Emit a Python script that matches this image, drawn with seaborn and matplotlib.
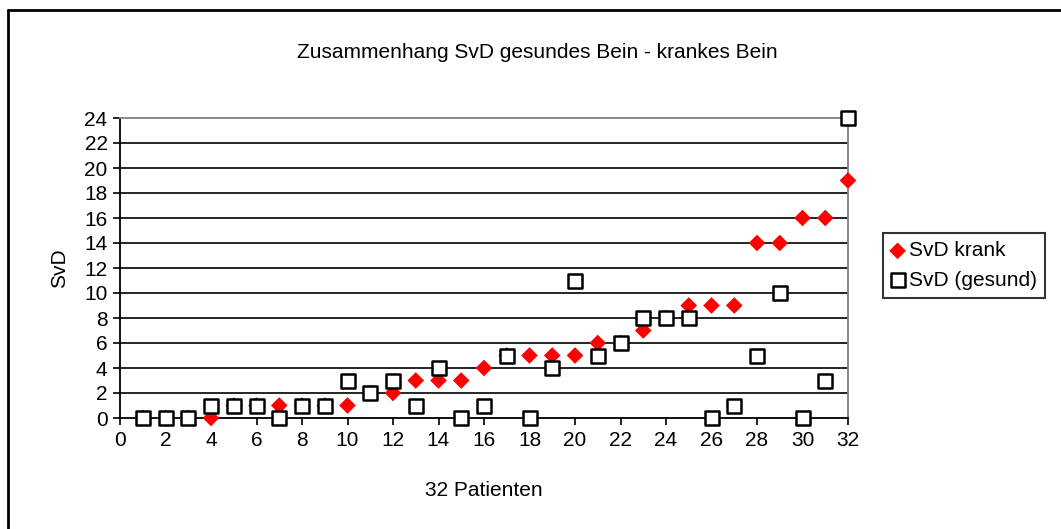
import numpy as np
import pandas as pd
import matplotlib
matplotlib.use('Agg')
import matplotlib.pyplot as plt
import seaborn as sns
from matplotlib.lines import Line2D

# data
patienten = list(range(1, 33))
svd_krank = [0, 0, 0, 0, 1, 1, 1, 1, 1, 1, 2, 2, 3, 3, 3, 4,
             5, 5, 5, 5, 6, 6, 7, 8, 9, 9, 9, 14, 14, 16, 16, 19]
svd_gesund = [0, 0, 0, 1, 1, 1, 0, 1, 1, 3, 2, 3, 1, 4, 0, 1,
              5, 0, 4, 11, 5, 6, 8, 8, 8, 0, 1, 5, 10, 0, 3, 24]
x_ticks = list(range(0, 33, 2))
y_ticks = list(range(0, 25, 2))

df = pd.DataFrame({'patient': patienten, 'krank': svd_krank, 'gesund': svd_gesund})

sns.set_theme(style="white")
plt.rcParams['font.family'] = ['Liberation Sans', 'DejaVu Sans']
plt.rcParams['text.color'] = 'black'
plt.rcParams['axes.labelcolor'] = 'black'
plt.rcParams['xtick.color'] = 'black'
plt.rcParams['ytick.color'] = 'black'
fs = 15

fig = plt.figure(figsize=(10.61, 5.29), dpi=100)
ax = fig.add_axes([120/1061, 111/529, 728/1061, 300/529])

# horizontal grid lines
for yv in y_ticks[1:-1]:
    ax.axhline(yv, color='black', lw=1.2, zorder=1)

sns.scatterplot(data=df, x='patient', y='krank', marker='D', s=72,
                color='#ff0000', edgecolor='none', linewidth=0, ax=ax,
                zorder=3, clip_on=False, label='SvD krank')
sns.scatterplot(data=df, x='patient', y='gesund', marker='s', s=112,
                facecolor='white', edgecolor='black', linewidth=1.8, ax=ax,
                zorder=4, clip_on=False, label='SvD (gesund)')

ax.set_xlim(0, 32)
ax.set_ylim(0, 24)
ax.set_xticks(x_ticks)
ax.set_yticks(y_ticks)
ax.tick_params(axis='both', direction='out', length=5, width=1.2,
               color='black', labelcolor='black', labelsize=fs, pad=4,
               bottom=True, left=True)

for side in ['left', 'bottom']:
    ax.spines[side].set_color('black')
    ax.spines[side].set_linewidth(1.3)
for side in ['top', 'right']:
    ax.spines[side].set_color('#808080')
    ax.spines[side].set_linewidth(1.3)

ax.set_xlabel('32 Patienten', fontsize=fs, labelpad=23)
ax.set_ylabel('SvD', fontsize=fs, labelpad=11)

fig.text(537/1061, 1 - 52/529, 'Zusammenhang SvD gesundes Bein - krankes Bein',
         ha='center', va='center', fontsize=fs, color='black')

leg = ax.legend(loc='upper left', bbox_to_anchor=(883/1061, 1 - 233/529),
                bbox_transform=fig.transFigure, fancybox=False, frameon=True,
                fontsize=fs, handletextpad=0.25, handlelength=0.6,
                borderpad=0.4, labelspacing=0.5, borderaxespad=0)
leg.get_frame().set_edgecolor('black')
leg.get_frame().set_linewidth(1.5)
for t in leg.get_texts():
    t.set_color('black')

# chart area border (left and top edges only visible)
fig.add_artist(Line2D([8/1061, 8/1061], [0, 1 - 10/529], color='black', lw=2))
fig.add_artist(Line2D([8/1061, 1], [1 - 10/529, 1 - 10/529], color='black', lw=2))

fig.savefig('out.png', dpi=100)
